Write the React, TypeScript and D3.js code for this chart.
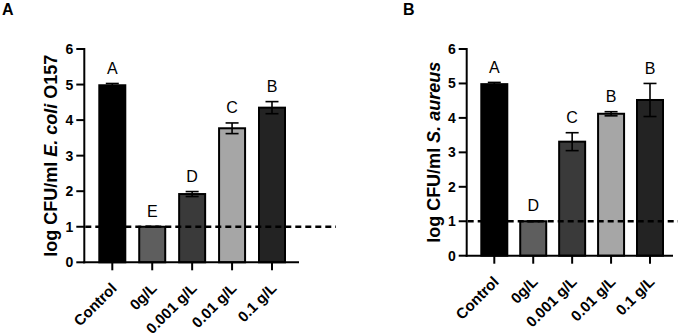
import React from "react";
import * as d3 from "d3";

const categories = ["Control", "0g/L", "0.001 g/L", "0.01 g/L", "0.1 g/L"];
const ecoliMeans = [4.98, 1.0, 1.92, 3.77, 4.35];
const ecoliErrors = [0.05, 0.01, 0.07, 0.15, 0.17];
const ecoliLetters = ["A", "E", "D", "C", "B"];
const aureusMeans = [4.98, 1.0, 3.31, 4.12, 4.52];
const aureusErrors = [0.05, 0.01, 0.26, 0.06, 0.48];
const aureusLetters = ["A", "D", "C", "B", "B"];
const barColors = ["#000000", "#5e5e5e", "#3a3a3a", "#a6a6a6", "#232323"];
const yTicks = [0, 1, 2, 3, 4, 5, 6];
const detectionLimit = 1;

const FONT = "'Liberation Sans', Arial, sans-serif";

type PanelProps = {
  title: string;
  titleX: number;
  axisX: number;
  axisEnd: number;
  y0: number;
  y6: number;
  firstTick: number;
  lastTick: number;
  dashEnd: number;
  labelX: number;
  means: number[];
  errors: number[];
  letters: string[];
  yLabel: React.ReactNode;
};

function Panel(p: PanelProps) {
  const x = d3.scalePoint<string>().domain(categories).range([p.firstTick, p.lastTick]);
  const y = d3.scaleLinear().domain([0, 6]).range([p.y0, p.y6]);
  const bw = 26;
  return (
    <g>
      <text x={p.titleX} y={15} fontFamily={FONT} fontWeight="bold" fontSize={16}>
        {p.title}
      </text>
      {/* bars */}
      {categories.map((c, i) => (
        <rect
          key={c}
          x={(x(c) as number) - bw / 2}
          y={y(p.means[i])}
          width={bw}
          height={y(0) - y(p.means[i])}
          fill={barColors[i]}
          stroke="#000"
          strokeWidth={2}
        />
      ))}
      {/* error bars */}
      {categories.map((c, i) => {
        const cx = x(c) as number;
        const hi = y(p.means[i] + p.errors[i]);
        const lo = y(p.means[i] - p.errors[i]);
        return (
          <g key={c} stroke="#000" strokeWidth={1.6}>
            <line x1={cx} x2={cx} y1={hi} y2={lo} />
            <line x1={cx - 6.5} x2={cx + 6.5} y1={hi} y2={hi} />
            <line x1={cx - 6.5} x2={cx + 6.5} y1={lo} y2={lo} />
          </g>
        );
      })}
      {/* letters */}
      {categories.map((c, i) => (
        <text
          key={c}
          x={x(c) as number}
          y={y(p.means[i] + p.errors[i]) - 9.5}
          textAnchor="middle"
          fontFamily={FONT}
          fontSize={16}
        >
          {p.letters[i]}
        </text>
      ))}
      {/* dashed detection limit */}
      <line
        x1={p.axisX + 1}
        x2={p.dashEnd}
        y1={y(detectionLimit)}
        y2={y(detectionLimit)}
        stroke="#000"
        strokeWidth={2.5}
        strokeDasharray="6,4"
      />
      {/* y axis */}
      <line x1={p.axisX} x2={p.axisX} y1={y(6) - 1} y2={y(0) + 1} stroke="#000" strokeWidth={2} />
      {yTicks.map((t) => (
        <g key={t}>
          <line x1={p.axisX - 8} x2={p.axisX} y1={y(t)} y2={y(t)} stroke="#000" strokeWidth={2} />
          <text
            x={p.axisX - 11}
            y={y(t)}
            dy="0.36em"
            textAnchor="end"
            fontFamily={FONT}
            fontWeight="bold"
            fontSize={14}
          >
            {t}
          </text>
        </g>
      ))}
      {/* x axis */}
      <line x1={p.axisX - 1} x2={p.axisEnd} y1={y(0)} y2={y(0)} stroke="#000" strokeWidth={2} />
      {categories.map((c) => {
        const cx = x(c) as number;
        return (
          <g key={c}>
            <line x1={cx} x2={cx} y1={y(0)} y2={y(0) + 8} stroke="#000" strokeWidth={2} />
            <text
              transform={`translate(${cx + 5.5},${y(0) + 27}) rotate(-45)`}
              textAnchor="end"
              fontFamily={FONT}
              fontWeight="bold"
              fontSize={15}
            >
              {c}
            </text>
          </g>
        );
      })}
      {/* y label */}
      <text
        transform={`translate(${p.labelX},${(p.y0 + p.y6) / 2}) rotate(-90)`}
        textAnchor="middle"
        fontFamily={FONT}
        fontWeight="bold"
        fontSize={18}
      >
        {p.yLabel}
      </text>
    </g>
  );
}

export default function App() {
  return (
    <svg
      width={678}
      height={335}
      style={{ position: "absolute", left: 0, top: 0, background: "#fff" }}
    >
      <Panel
        title="A"
        titleX={2}
        axisX={84.3}
        axisEnd={299}
        y0={262.3}
        y6={49}
        firstTick={112.3}
        lastTick={272}
        dashEnd={336}
        labelX={56.5}
        means={ecoliMeans}
        errors={ecoliErrors}
        letters={ecoliLetters}
        yLabel={
          <>
            log CFU/ml <tspan fontStyle="italic">E. coli</tspan> O157
          </>
        }
      />
      <Panel
        title="B"
        titleX={403}
        axisX={466.7}
        axisEnd={673}
        y0={255.7}
        y6={49}
        firstTick={494.3}
        lastTick={650}
        dashEnd={678}
        labelX={440}
        means={aureusMeans}
        errors={aureusErrors}
        letters={aureusLetters}
        yLabel={
          <>
            log CFU/ml <tspan fontStyle="italic">S. aureus</tspan>
          </>
        }
      />
    </svg>
  );
}
